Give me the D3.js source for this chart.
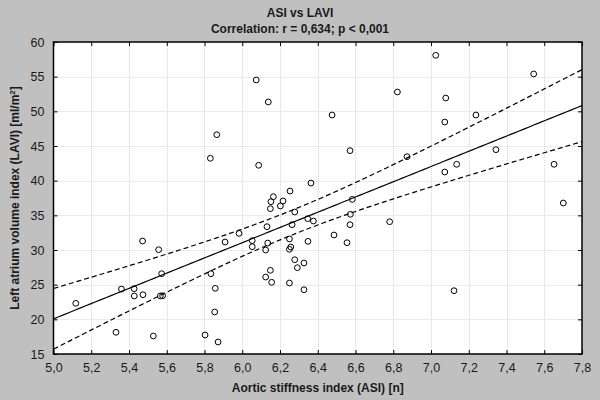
<!DOCTYPE html>
<html><head><meta charset="utf-8">
<script src="https://cdn.jsdelivr.net/npm/d3@7"></script>
<style>
html,body{margin:0;padding:0;background:#c0c0c0;}
svg{display:block;font-family:"Liberation Sans",Arial,sans-serif;}
</style></head>
<body>
<svg id="chart" width="600" height="400"></svg>
<script>
// Aortic stiffness index (ASI)
const asi = [
5.118,5.331,5.36,5.427,5.428,5.472,5.474,5.529,5.557,5.573,5.566,5.578,5.803,5.834,5.857,5.854,5.872,5.909,
5.983,6.053,6.053,6.131,6.135,6.124,6.149,6.124,6.156,6.149,6.152,6.165,6.202,6.216,6.253,6.278,6.264,6.25,6.257,6.25,6.278,6.292,6.327,6.25,6.327,6.347,6.377,6.348,6.486,6.555,6.571,6.573,6.583,
6.074,6.138,5.865,5.831,6.087,6.476,6.571,6.364,
7.025,6.822,7.078,7.544,7.073,7.238,6.873,7.344,7.136,7.073,7.652,
6.781,7.122,7.701];
// Left atrium volume index (LAVI)
const lavi = [
22.31,18.13,24.37,24.42,23.37,31.3,23.55,17.6,30.04,26.58,23.37,23.4,17.74,26.58,24.47,21.06,16.73,31.15,
32.4,31.35,30.48,33.36,31.0,30.0,27.07,26.1,25.34,35.96,36.97,37.69,36.35,37.07,38.5,35.48,33.65,31.59,30.43,30.1,28.6,27.45,28.13,25.24,24.27,34.52,34.18,31.25,32.16,31.05,33.65,35.15,37.3,
54.52,51.35,46.63,43.23,42.22,49.47,44.33,39.66,
58.08,52.79,51.92,55.39,48.46,49.47,43.46,44.47,42.36,41.25,42.36,
34.08,24.13,36.78];
const xTicks = [5.0,5.2,5.4,5.6,5.8,6.0,6.2,6.4,6.6,6.8,7.0,7.2,7.4,7.6,7.8];
const yTicks = [15,20,25,30,35,40,45,50,55,60];
const titleText = "ASI vs LAVI";
const subtitleText = "Correlation: r = 0,634; p < 0,001";
const xLabel = "Aortic stiffness index (ASI) [n]";

const svg = d3.select("#chart");
const m = {l:53.5, r:582, t:42, b:354};
const x = d3.scaleLinear().domain([5.0,7.8]).range([m.l,m.r]);
const y = d3.scaleLinear().domain([15,60]).range([m.b,m.t]);
const fmt = d => d.toFixed(1).replace(".", ",");

svg.append("rect").attr("x",m.l).attr("y",m.t).attr("width",m.r-m.l).attr("height",m.b-m.t).attr("fill","#fff");

// grid
const grid = svg.append("g").attr("stroke","#d6d6d6").attr("stroke-width",1).attr("stroke-dasharray","1,1");
xTicks.slice(1,-1).forEach(v=>grid.append("line").attr("x1",Math.round(x(v))+0.5).attr("x2",Math.round(x(v))+0.5).attr("y1",m.t).attr("y2",m.b));
yTicks.slice(1,-1).forEach(v=>grid.append("line").attr("y1",Math.round(y(v))+0.5).attr("y2",Math.round(y(v))+0.5).attr("x1",m.l).attr("x2",m.r));

// regression and confidence band computed from data
const n = asi.length;
const xbar = d3.mean(asi), ybar = d3.mean(lavi);
let sxx=0,sxy=0;
for(let i=0;i<n;i++){sxx+=(asi[i]-xbar)**2; sxy+=(asi[i]-xbar)*(lavi[i]-ybar);}
const slope = sxy/sxx, icpt = ybar-slope*xbar;
let sse=0; for(let i=0;i<n;i++){sse+=(lavi[i]-icpt-slope*asi[i])**2;}
const sres = Math.sqrt(sse/(n-2));
const tcrit = 1.994;
const xs = d3.range(0,101).map(i=>5.0+2.8*i/100);
const fit = v => icpt+slope*v;
const hw = v => tcrit*sres*Math.sqrt(1/n+(v-xbar)**2/sxx);
const line = d3.line().x(d=>x(d[0])).y(d=>y(d[1]));
svg.append("clipPath").attr("id","plotclip").append("rect").attr("x",m.l).attr("y",m.t).attr("width",m.r-m.l).attr("height",m.b-m.t);
const lg = svg.append("g").attr("clip-path","url(#plotclip)").attr("fill","none").attr("stroke","#000");
lg.append("path").attr("d",line(xs.map(v=>[v,fit(v)]))).attr("stroke-width",1.2);
lg.append("path").attr("d",line(xs.map(v=>[v,fit(v)+hw(v)]))).attr("stroke-width",1.2).attr("stroke-dasharray","5,3");
lg.append("path").attr("d",line(xs.map(v=>[v,fit(v)-hw(v)]))).attr("stroke-width",1.2).attr("stroke-dasharray","5,3");

// points
svg.append("g").selectAll("circle").data(asi).join("circle")
  .attr("cx",(d,i)=>x(d)).attr("cy",(d,i)=>y(lavi[i])).attr("r",2.9)
  .attr("fill","none").attr("stroke","#000").attr("stroke-width",1);

// axes with inward ticks on all sides
const tl = 4;
const axB = d3.axisBottom(x).tickValues(xTicks).tickFormat(fmt).tickSize(-tl).tickPadding(9);
const axT = d3.axisTop(x).tickValues(xTicks).tickFormat("").tickSize(-tl);
const axL = d3.axisLeft(y).tickValues(yTicks).tickFormat(d=>d).tickSize(-tl).tickPadding(9);
const axR = d3.axisRight(y).tickValues(yTicks).tickFormat("").tickSize(-tl);
function style(g){g.select(".domain").remove();g.selectAll("line").attr("stroke","#000");g.selectAll("text").attr("fill","#1a1a1a").style("font-size","12.5px").style("font-family","'Liberation Sans',Arial,sans-serif");}
svg.append("g").attr("transform",`translate(0,${m.b})`).call(axB).call(style);
svg.append("g").attr("transform",`translate(0,${m.t})`).call(axT).call(style);
svg.append("g").attr("transform",`translate(${m.l},0)`).call(axL).call(style);
svg.append("g").attr("transform",`translate(${m.r},0)`).call(axR).call(style);

svg.append("rect").attr("x",m.l).attr("y",m.t).attr("width",m.r-m.l).attr("height",m.b-m.t).attr("fill","none").attr("stroke","#000").attr("stroke-width",1.5);

// titles
svg.append("text").attr("x",300).attr("y",17).attr("text-anchor","middle").attr("font-weight","bold").attr("font-size","12px").attr("fill","#1a1a1a").text(titleText);
svg.append("text").attr("x",300).attr("y",33).attr("text-anchor","middle").attr("font-weight","bold").attr("font-size","12px").attr("fill","#1a1a1a").text(subtitleText);
svg.append("text").attr("x",(m.l+m.r)/2).attr("y",392).attr("text-anchor","middle").attr("font-weight","bold").attr("font-size","12px").attr("fill","#1a1a1a").text(xLabel);
const yl = svg.append("text").attr("transform",`translate(19,${(m.t+m.b)/2}) rotate(-90)`).attr("text-anchor","middle").attr("font-weight","bold").attr("font-size","12px").attr("fill","#1a1a1a");
yl.append("tspan").text("Left atrium volume index (LAVI) [ml/m");
yl.append("tspan").attr("dy",-4).attr("font-size","8px").text("2");
yl.append("tspan").attr("dy",4).text("]");
</script>
</body></html>
